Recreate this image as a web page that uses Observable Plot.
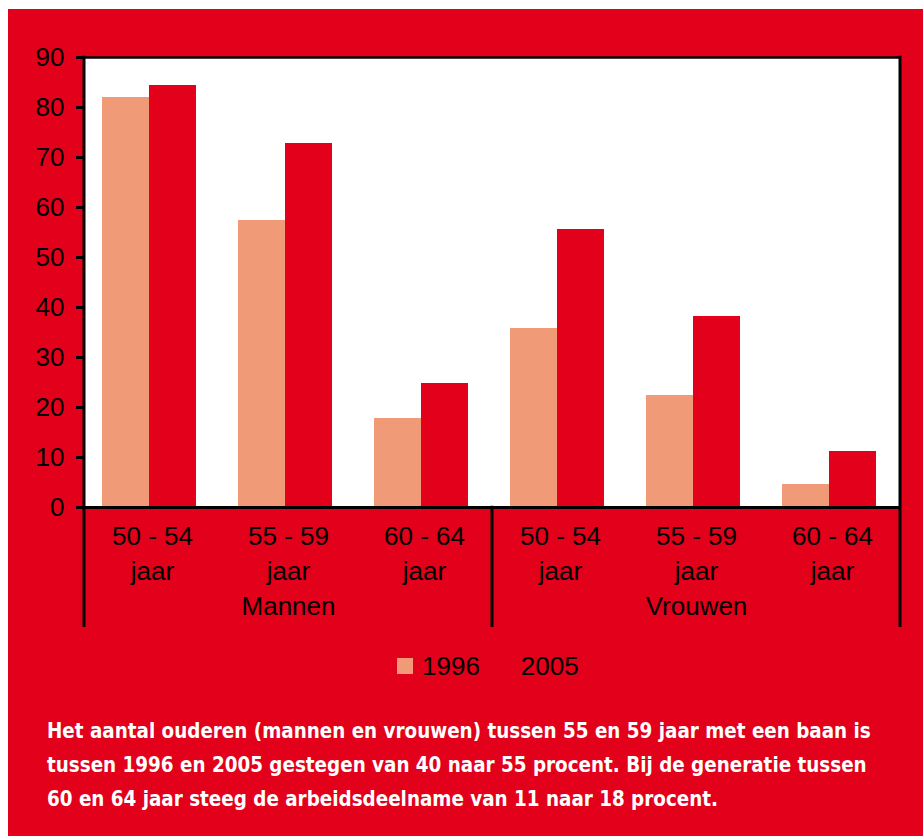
<!DOCTYPE html>
<html>
<head>
<meta charset="utf-8">
<script src="https://cdn.jsdelivr.net/npm/d3@7"></script>
<script src="https://cdn.jsdelivr.net/npm/@observablehq/plot@0.6"></script>
<style>
  html, body { margin: 0; padding: 0; background: #ffffff; width: 923px; height: 836px; overflow: hidden; }
  #bg { position: absolute; left: 8px; top: 9px; right: 0; bottom: 0; background: #e2001a; }
  #chart { position: absolute; left: 0; top: 0; }
  #legend { position: absolute; left: 397px; top: 651px; display: flex; align-items: center;
            font-family: "Liberation Sans", Arial, sans-serif; font-size: 26px; line-height: 30px; color: #000; }
  #legend .sw { width: 16px; height: 16px; display: inline-block; margin-right: 9px; }
  #legend .item { display: flex; align-items: center; margin-right: 16px; }
  #caption { position: absolute; left: 47px; top: 714px; color: #fff;
             font-family: "DejaVu Sans Condensed", "DejaVu Sans", sans-serif; font-stretch: condensed;
             font-weight: bold; font-size: 20.4px; line-height: 34px; white-space: nowrap; }
</style>
</head>
<body>
<div id="bg"></div>
<div id="chart"></div>
<div id="legend"></div>
<div id="caption"></div>
<script>
// ---- data ----
const groups = ["Mannen", "Mannen", "Mannen", "Vrouwen", "Vrouwen", "Vrouwen"];
const ages = ["50 - 54", "55 - 59", "60 - 64", "50 - 54", "55 - 59", "60 - 64"];
const years = ["1996", "2005"];
const values1996 = [82.0, 57.4, 17.8, 35.8, 22.4, 4.6];
const values2005 = [84.4, 72.8, 24.8, 55.6, 38.2, 11.2];
const yTicks = [0, 10, 20, 30, 40, 50, 60, 70, 80, 90];
const colors = ["#f19a78", "#e2001a"];
const captionLines = [
  "Het aantal ouderen (mannen en vrouwen) tussen 55 en 59 jaar met een baan is",
  "tussen 1996 en 2005 gestegen van 40 naar 55 procent. Bij de generatie tussen",
  "60 en 64 jaar steeg de arbeidsdeelname van 11 naar 18 procent."
];

const keys = groups.map((g, i) => g + "|" + ages[i]);
const data = [];
keys.forEach((k, i) => {
  data.push({key: k, year: years[0], value: values1996[i]});
  data.push({key: k, year: years[1], value: values2005[i]});
});
// middle category of each group carries the group label
const groupLabelKeys = new Set();
[...new Set(groups)].forEach(g => {
  const idx = groups.map((x, i) => x === g ? i : -1).filter(i => i >= 0);
  groupLabelKeys.add(keys[idx[Math.floor(idx.length / 2)]]);
});

const font = "'Liberation Sans', Arial, Helvetica, sans-serif";

const plot = Plot.plot({
  width: 923,
  height: 640,
  marginLeft: 83,
  marginRight: 23,
  marginTop: 57,
  marginBottom: 133,
  style: {background: "transparent", fontFamily: font, fontSize: "26px", color: "#000", overflow: "visible"},
  fx: {domain: keys, padding: 0, axis: null, label: null},
  x: {domain: years, paddingInner: 0, paddingOuter: 0.433, align: 0.43, axis: null},
  y: {domain: [0, 90], axis: null},
  color: {domain: years, range: colors},
  marks: [
    Plot.frame({fill: "white", stroke: "white", strokeWidth: 1}),
    Plot.barY(data, {fx: "key", x: "year", y: "value", fill: "year"}),
    Plot.ruleY([90], {stroke: "black", strokeWidth: 2.5}),
    Plot.ruleY([0], {stroke: "black", strokeWidth: 3}),
    Plot.axisY({anchor: "left", ticks: yTicks, tickSize: 8, tickPadding: 12, strokeWidth: 3,
                stroke: "black", fill: "black", fontSize: 26, label: null}),
    Plot.axisFx({anchor: "bottom", tickSize: 0, tickPadding: 12.5, fontSize: 26, lineHeight: 1.35,
                 fill: "black", label: null,
                 tickFormat: d => ages[keys.indexOf(d)] + "\njaar"}),
    Plot.axisFx({anchor: "bottom", tickSize: 0, tickPadding: 89.5, fontSize: 26,
                 fill: "black", label: null,
                 tickFormat: d => groupLabelKeys.has(d) ? groups[keys.indexOf(d)] : ""})
  ]
});

document.getElementById("chart").appendChild(plot);

// group separators & frame sides, derived from Plot's own scales
const fxS = plot.scale("fx");
const yS = plot.scale("y");
const yBottom = yS.apply(0) + 120;
const svg = d3.select(plot);
const firstOf = g => keys[groups.indexOf(g)];
const uniq = [...new Set(groups)];
const seps = [];
uniq.forEach((g, gi) => seps.push({x: fxS.apply(firstOf(g)), top: gi === 0 ? yS.apply(90) : yS.apply(0)}));
seps.push({x: fxS.apply(keys[keys.length - 1]) + fxS.bandwidth, top: yS.apply(90)});
svg.append("g").selectAll("line").data(seps).join("line")
  .attr("x1", d => d.x).attr("x2", d => d.x)
  .attr("y1", d => d.top - 1.25).attr("y2", yBottom)
  .attr("stroke", "black").attr("stroke-width", 3);

// legend
const legend = document.getElementById("legend");
years.forEach((yr, i) => {
  const item = document.createElement("div");
  item.className = "item";
  const sw = document.createElement("span");
  sw.className = "sw";
  sw.style.background = colors[i];
  const t = document.createElement("span");
  t.textContent = yr;
  item.appendChild(sw);
  item.appendChild(t);
  legend.appendChild(item);
});

// caption
const cap = document.getElementById("caption");
captionLines.forEach((line, i) => {
  const d = document.createElement("div");
  d.textContent = line;
  cap.appendChild(d);
});
</script>
</body>
</html>
